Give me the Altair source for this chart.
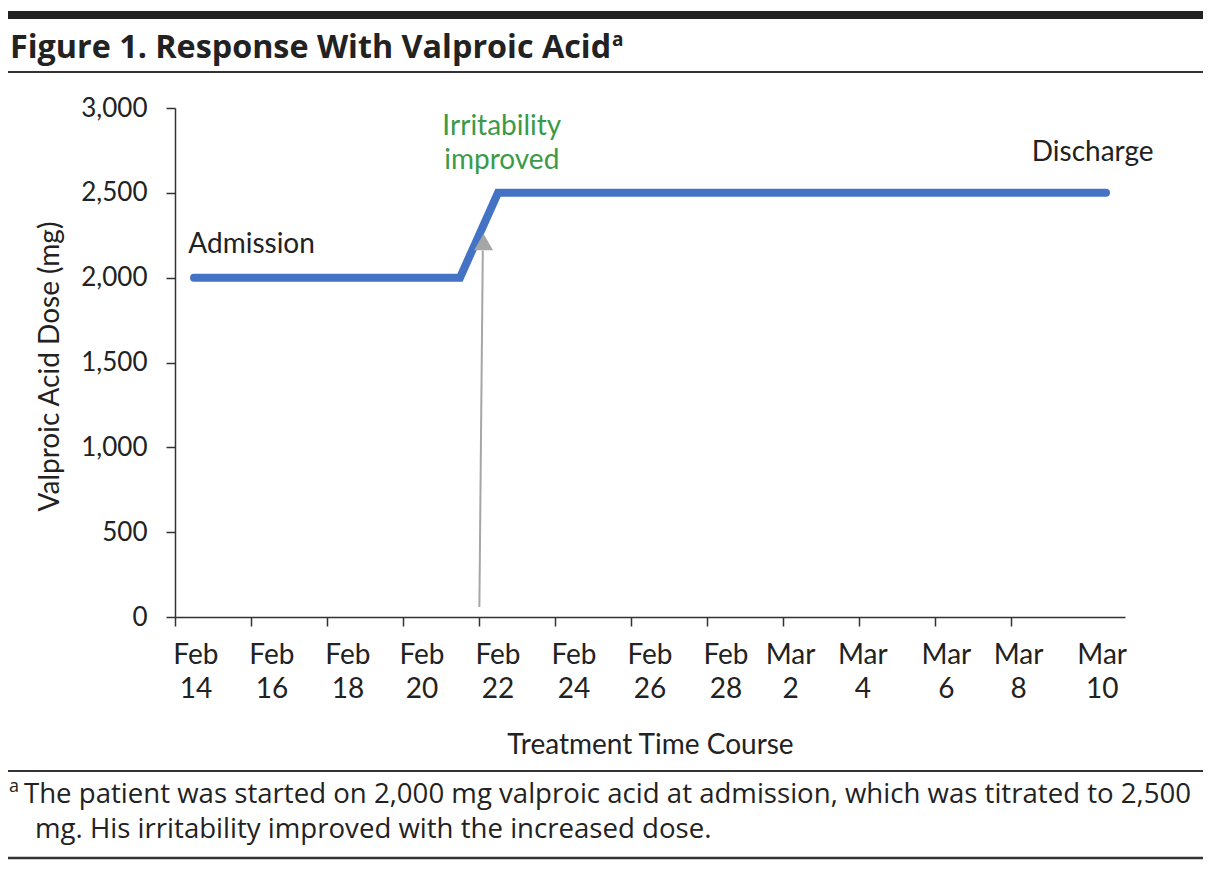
import altair as alt
import pandas as pd

# Dose line (day index: 0 = Feb 14)
dose_days = [0, 7, 8, 24]
dose_mg = [2000, 2000, 2500, 2500]

# X tick labels (two lines) and their positions in days
tick_month = ["Feb", "Feb", "Feb", "Feb", "Feb", "Feb", "Feb", "Feb", "Mar", "Mar", "Mar", "Mar", "Mar"]
tick_day = ["14", "16", "18", "20", "22", "24", "26", "28", "2", "4", "6", "8", "10"]
tick_pos = [0.05, 2.05, 4.05, 6.0, 8.0, 10.0, 12.0, 14.0, 15.7, 17.6, 19.8, 21.7, 23.9]

# Tick marks (between days, every 2 days)
tick_marks = [-0.5 + 2 * i for i in range(12)]

# Annotations
adm_text = ["Admission"]
adm_x = [-0.15]
adm_y = [2190]
dis_text = ["Discharge"]
dis_x = [23.65]
dis_y = [2735]
green_text = ["Irritability", "improved"]
green_x = [8.1, 8.1]
green_y = [2888, 2688]

# Arrow
arrow_x = [7.51]
arrow_x2 = [7.6]
arrow_y = [59]
arrow_y2 = [2160]
head_x = [7.62]
head_y = [2210]

FONT = "Lato"
W, H = 950, 509

xs = alt.Scale(domain=[-0.5, 24.5], nice=False, zero=False)
ys = alt.Scale(domain=[0, 3000], nice=False)

line_df = pd.DataFrame({"day": dose_days, "mg": dose_mg})

base_axes = alt.Chart(line_df).mark_line(
    color="#4472C4", strokeWidth=8, strokeCap="round", strokeJoin="miter"
).encode(
    x=alt.X("day:Q", scale=xs,
            axis=alt.Axis(values=tick_marks, labels=False, tickSize=9, tickColor="#333",
                          domainColor="#333", domainWidth=1.5, tickWidth=1.5, grid=False,
                          title="Treatment Time Course", titleFont=FONT, titleFontSize=28,
                          titleFontWeight="normal", titleColor="#222", titleY=128,
                          titleBaseline="middle")),
    y=alt.Y("mg:Q", scale=ys,
            axis=alt.Axis(values=[0, 500, 1000, 1500, 2000, 2500, 3000], format=",.0f",
                          tickSize=9, tickColor="#333", domainColor="#333", domainWidth=1.5,
                          tickWidth=1.5, labelPadding=19, labelFont=FONT, labelFontSize=26,
                          labelColor="#222", grid=False,
                          title="Valproic Acid Dose (mg)", titleFont=FONT, titleFontSize=28,
                          titleFontWeight="normal", titleColor="#222",
                          titleX=-125, titleY=258, titleAngle=270, titleAlign="center",
                          titleBaseline="middle")),
)

arrow_df = pd.DataFrame({"x": arrow_x, "x2": arrow_x2, "y": arrow_y, "y2": arrow_y2})
arrow = alt.Chart(arrow_df).mark_rule(color="#A6A6A6", strokeWidth=2).encode(
    x=alt.X("x:Q", scale=xs), x2="x2:Q", y=alt.Y("y:Q", scale=ys), y2="y2:Q"
)
head_df = pd.DataFrame({"x": head_x, "y": head_y})
head = alt.Chart(head_df).mark_point(
    shape="triangle-up", filled=True, color="#A6A6A6", size=360, opacity=1
).encode(x=alt.X("x:Q", scale=xs), y=alt.Y("y:Q", scale=ys))

adm_df = pd.DataFrame({"t": adm_text, "x": adm_x, "y": adm_y})
adm = alt.Chart(adm_df).mark_text(
    font=FONT, fontSize=28, color="#222", align="left", baseline="middle"
).encode(x=alt.X("x:Q", scale=xs), y=alt.Y("y:Q", scale=ys), text="t:N")
dis_df = pd.DataFrame({"t": dis_text, "x": dis_x, "y": dis_y})
dis = alt.Chart(dis_df).mark_text(
    font=FONT, fontSize=28, color="#222", align="center", baseline="middle"
).encode(x=alt.X("x:Q", scale=xs), y=alt.Y("y:Q", scale=ys), text="t:N")

green_df = pd.DataFrame({"t": green_text, "x": green_x, "y": green_y})
green = alt.Chart(green_df).mark_text(
    font=FONT, fontSize=28, color="#3A9A4A", align="center", baseline="middle"
).encode(x=alt.X("x:Q", scale=xs), y=alt.Y("y:Q", scale=ys), text="t:N")

tick_df = pd.DataFrame({"m": tick_month, "d": tick_day, "x": tick_pos})
month_lbl = alt.Chart(tick_df).mark_text(
    font=FONT, fontSize=28, color="#222", align="center", baseline="middle"
).encode(x=alt.X("x:Q", scale=xs), y=alt.value(H + 39), text="m:N")
day_lbl = alt.Chart(tick_df).mark_text(
    font=FONT, fontSize=28, color="#222", align="center", baseline="middle"
).encode(x=alt.X("x:Q", scale=xs), y=alt.value(H + 73), text="d:N")

# Decorative frame (pixel positions relative to plot origin)
one = pd.DataFrame({"k": [0]})
top_bar = alt.Chart(one).mark_rule(color="#222", strokeWidth=8).encode(
    x=alt.value(-167), x2=alt.value(1028), y=alt.value(-93))
thin_top = alt.Chart(one).mark_rule(color="#333", strokeWidth=2).encode(
    x=alt.value(-167), x2=alt.value(1028), y=alt.value(-36))
rule_f1 = alt.Chart(one).mark_rule(color="#333", strokeWidth=2).encode(
    x=alt.value(-167), x2=alt.value(1028), y=alt.value(663))
rule_f2 = alt.Chart(one).mark_rule(color="#333", strokeWidth=2.5).encode(
    x=alt.value(-167), x2=alt.value(1028), y=alt.value(750))

title_df = pd.DataFrame({"t": ["Figure 1. Response With Valproic Acid"]})
title = alt.Chart(title_df).mark_text(
    font="Open Sans", fontSize=32.3, fontWeight="bold", color="#222",
    align="left", baseline="alphabetic"
).encode(x=alt.value(-165), y=alt.value(-50), text="t:N")
title_sup = alt.Chart(pd.DataFrame({"t": ["a"]})).mark_text(
    font="Open Sans", fontSize=19, fontWeight="bold", color="#222", align="left", baseline="alphabetic"
).encode(x=alt.value(437), y=alt.value(-62), text="t:N")

foot_df = pd.DataFrame({
    "t": ["The patient was started on 2,000 mg valproic acid at admission, which was titrated to 2,500",
          "mg. His irritability improved with the increased dose."],
    "x": [-151, -140],
    "y": [695, 730],
})
foot = alt.Chart(foot_df).mark_text(
    font="Open Sans", fontSize=27.6, color="#222", align="left", baseline="alphabetic"
).encode(x=alt.X("x:Q", scale=None), y=alt.Y("y:Q", scale=None), text="t:N")
foot_sup = alt.Chart(pd.DataFrame({"t": ["a"]})).mark_text(
    font="Open Sans", fontSize=18, color="#222", align="left", baseline="alphabetic"
).encode(x=alt.value(-166), y=alt.value(684), text="t:N")

chart = alt.layer(
    base_axes, arrow, head, adm, dis, green, month_lbl, day_lbl,
    top_bar, thin_top, rule_f1, rule_f2, title, title_sup, foot, foot_sup
).properties(
    width=W, height=H,
    autosize=alt.AutoSizeParams(type="none"),
    padding={"left": 167, "top": 100, "right": 80, "bottom": 245},
    background="white",
).configure_view(stroke=None)

chart.save("out.html", embed_options={"renderer": "svg", "actions": False})
